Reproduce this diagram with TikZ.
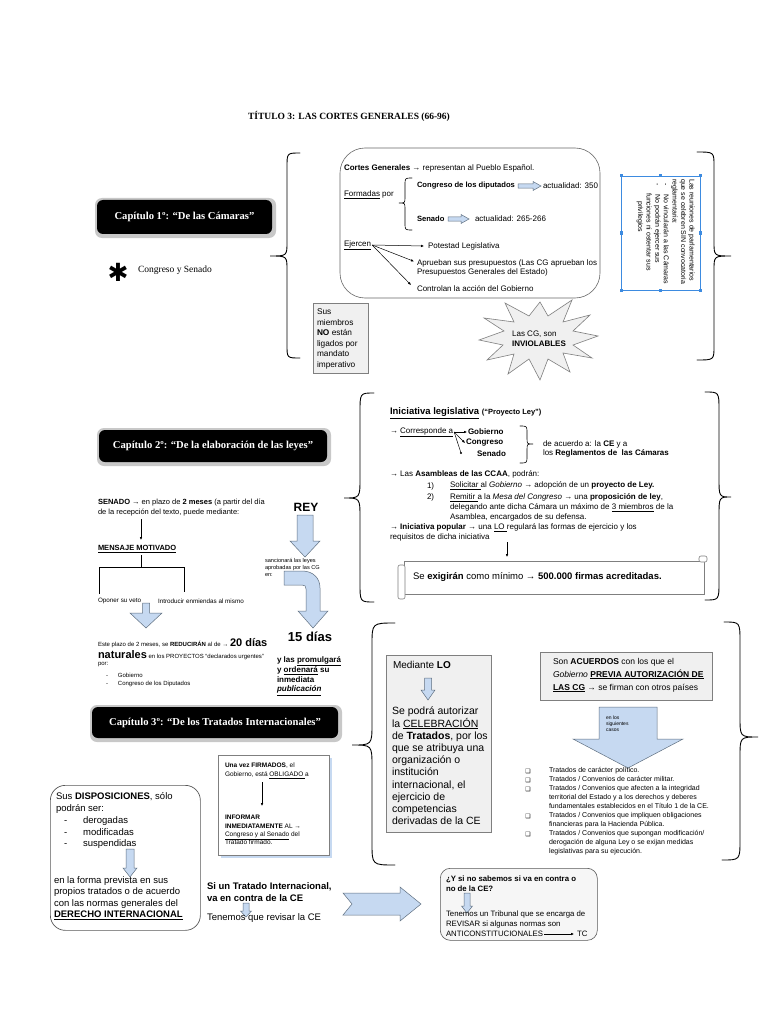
\documentclass[tikz,border=0pt]{standalone}
\usepackage{fontspec}
\setmainfont{Liberation Serif}
\setsansfont{Liberation Sans}
\newfontfamily\djv{DejaVu Sans}
\usetikzlibrary{arrows.meta,calc}
\definecolor{ablue}{HTML}{C6D9F1}
\definecolor{aline}{HTML}{5F6F80}
\definecolor{gbox}{HTML}{F0F0F0}
\definecolor{gline}{HTML}{7F7F7F}
\definecolor{selblue}{HTML}{3D8BE0}
\definecolor{shad}{HTML}{C8C8C8}
\newcommand\harw[6]{\draw[barrow] (#1,{#3-#4}) -- (#5,{#3-#4}) -- (#5,{#3-#6}) -- (#2,#3) -- (#5,{#3+#6}) -- (#5,{#3+#4}) -- (#1,{#3+#4}) -- cycle;}
\newcommand\varw[6]{\draw[barrow] ({#3-#4},#1) -- ({#3-#4},#5) -- ({#3-#6},#5) -- (#3,#2) -- ({#3+#6},#5) -- ({#3+#4},#5) -- ({#3+#4},#1) -- cycle;}
\newcommand\fsz[2]{\fontsize{#1}{#2}\selectfont}
\tikzset{
 t/.style={anchor=west, align=left, inner sep=0pt, outer sep=0pt, font=\sffamily\fsz{8}{9.8}},
 brace/.style={draw=black, line width=0.9pt, line cap=round},
 barrow/.style={draw=aline, fill=ablue, line width=0.5pt},
 tarr/.style={draw=black, line width=0.5pt, -{Latex[length=3pt,width=2.6pt]}},
 tline/.style={draw=black, line width=0.5pt},
 gb/.style={draw=gline, fill=gbox, line width=0.6pt},
 chap/.style={fill=black, text=white, rounded corners=6pt, inner sep=0pt, font=\bfseries\fsz{10.6}{12}},
 chapshadow/.style={fill=shad, rounded corners=7pt},
}
\begin{document}
\begin{tikzpicture}[x=1pt,y=-1pt]
\path[use as bounding box, fill=white] (0,0) rectangle (768,1024);

% ---------- title
\node[font=\bfseries\fsz{9.5}{11}] (title) at (349,116) {TÍTULO 3: LAS CORTES GENERALES (66-96)};

% ---------- chapter 1
\fill[chapshadow] (95,198) rectangle (276,238);
\node[chap, minimum width=175pt, minimum height=34pt] (cap1) at (184.5,217) {Capítulo 1º: “De las Cámaras”};
\node[font=\djv\fsz{25}{25}, inner sep=0pt] (ast) at (118,272) {✱};
\node[t, font=\fsz{9.5}{11}] (cys) at (138,270) {Congreso y Senado};

\draw[brace] (300,153) .. controls (287,153) .. (287,167) -- (287,242) .. controls (287,256) .. (270,256) .. controls (287,256) .. (287,270) -- (287,345) .. controls (287,358) .. (300,358);
\draw[brace] (697,152) .. controls (714,152) .. (714,166) -- (714,242) .. controls (714,256) .. (731,256) .. controls (714,256) .. (714,270) -- (714,346) .. controls (714,360) .. (697,360);

\node[draw=gline!80!black, line width=0.6pt, rounded corners=25pt, minimum width=260pt, minimum height=150pt, inner sep=0pt] (box1) at (470,223) {};
\node[t] (cg) at (344,168) {\textbf{Cortes Generales} → representan al Pueblo Español.};
\node[t] (form) at (344,195) {\underline{Formadas} por};
\draw[brace, line width=0.6pt] (412,178) .. controls (405,178) .. (405,185) -- (405,197) .. controls (405,203) .. (399,203) .. controls (405,203) .. (405,209) -- (405,223) .. controls (405,230) .. (412,230);
\node[t, font=\sffamily\bfseries\fsz{7.6}{9}] (cong) at (417,186) {Congreso de los diputados};
\harw{518}{541}{186}{2.2}{533}{4.5}
\node[t] (act1) at (543,186) {actualidad: 350};
\node[t, font=\sffamily\bfseries\fsz{7.6}{9}] (sen) at (417,219) {Senado};
\harw{448}{469}{219}{2.2}{461}{4.5}
\node[t] (act2) at (475,219) {actualidad: 265-266};
\node[t] (ej) at (344,245) {\underline{Ejercen}};
\node[t] (pot) at (428,246) {Potestad Legislativa};
\node[t] (apr) at (417,268) {Aprueban sus presupuestos (Las CG aprueban los\\Presupuestos Generales del Estado)};
\node[t] (ctrl) at (417,289) {Controlan la acción del Gobierno};
\coordinate (ejo) at ($(ej.east)+(1,0)$);
\draw[tarr] (ejo) -- ($(pot.west)+(-4,0)$);
\draw[tarr] (ejo) -- ($(apr.north west)+(-3,2)$);
\draw[tarr] (ejo) -- ($(ctrl.west)+(-6,-4)$);

% rotated note
\draw[selblue, line width=0.5pt] (621,176) rectangle (700,290);
\foreach \p in {(621,176),(660.5,176),(700,176),(621,233),(700,233),(621,290),(660.5,290),(700,290)}
  \fill[selblue] \p ++(-1.5,-1.5) rectangle ++(3,3);
\node[rotate=-90, anchor=north west, align=left, inner sep=0pt, font=\sffamily\fsz{7}{8.6}] (reun) at (695,179)
 {Las reuniones de parlamentarios\\que se celebren SIN convocatoria\\reglamentaria:\\\hspace*{4pt}-\hspace*{9pt}No vincularán a las Cámaras\\\hspace*{4pt}-\hspace*{9pt}No podrán ejercer sus\\\hspace*{14pt}funciones ni ostentar sus\\\hspace*{22pt}privilegios};

% sus miembros
\node[gb, anchor=north west, minimum width=55pt, minimum height=70pt, inner sep=0pt] (susb) at (313,303) {};
\node[t, font=\sffamily\fsz{8.3}{10.6}] (sust) at (317,339) {Sus\\miembros\\\textbf{NO} están\\ligados por\\mandato\\imperativo};

% starburst
\draw[gb, line width=0.6pt] (598,336) -- (573,331) -- (590,315) -- (563,322) -- (572,300) -- (548,316) -- (540,302) -- (529,316) -- (505,303) -- (514,322) -- (484,318) -- (504,331) -- (479,340) -- (503,345) -- (487,360) -- (514,354) -- (508,374) -- (529,359) -- (540,380) -- (548,359) -- (570,372) -- (563,353) -- (592,358) -- (573,345) -- cycle;
\node[t, anchor=center, font=\sffamily\fsz{8}{10}] (inv) at (539,339) {Las CG, son\\\textbf{INVIOLABLES}};

% ---------- chapter 2
\fill[chapshadow] (97,428) rectangle (331,466);
\node[chap, minimum width=228pt, minimum height=32pt] (cap2) at (213,446) {Capítulo 2º: “De la elaboración de las leyes”};

\draw[brace] (374,393) .. controls (360,393) .. (360,412) -- (360,478) .. controls (360,498) .. (344,498) .. controls (360,498) .. (360,518) -- (360,583) .. controls (360,602) .. (374,602);
\draw[brace] (705,392) .. controls (719,392) .. (719,410) -- (719,478) .. controls (719,497) .. (731,497) .. controls (719,497) .. (719,516) -- (719,582) .. controls (719,600) .. (705,600);

\node[t, font=\sffamily\fsz{7.5}{9}] (sen2a) at (98,503) {\textbf{SENADO} → en plazo de \textbf{2 meses} (a partir del día};
\node[t, font=\sffamily\fsz{7.5}{9}] (sen2b) at (98,513) {de la recepción del texto, puede mediante:};
\coordinate (a1s) at (141,519);
\coordinate (a1e) at (141,540);
\draw[tarr] (a1s) -- (a1e);
\node[t, font=\sffamily\bfseries\fsz{7.5}{9}] (mm) at (98,549) {\underline{MENSAJE MOTIVADO}};
\coordinate (tr0) at (141,555);
\coordinate (tr1) at (141,567);
\coordinate (trl) at (99,567);
\coordinate (trr) at (184,567);
\coordinate (trlb) at (99,594);
\coordinate (trrb) at (184,592);
\draw[tline] (tr0) -- (tr1);
\draw[tline] (trlb) -- (trl) -- (trr) -- (trrb);
\node[t, font=\sffamily\fsz{6.3}{8}] (veto) at (98,601) {Oponer su veto};
\node[t, font=\sffamily\fsz{6.3}{8}] (enm) at (158,601) {Introducir enmiendas al mismo};
\varw{603}{628}{146}{3.5}{613}{16}
\node[t, font=\sffamily\fsz{6}{8}] (pl1) at (98,643) {Este plazo de 2 meses, se \textbf{REDUCIRÁN} al de → {\fsz{11}{12}\textbf{20 días}}};
\node[t, font=\sffamily\fsz{6}{8}] (pl2) at (98,655) {{\fsz{11}{12}\textbf{naturales}} en los PROYECTOS “declarados urgentes”};
\node[t, font=\sffamily\fsz{6}{8}] (pl3) at (98,665) {por:};
\node[t, font=\sffamily\fsz{6}{8.5}] (pl4) at (106,680) {-\hspace*{10pt}Gobierno\\-\hspace*{10pt}Congreso de los Diputados};

\node[font=\sffamily\bfseries\fsz{12}{14}, inner sep=0pt] (rey) at (306,507) {REY};
\varw{515}{557}{305}{8}{541}{15}
\node[t, font=\sffamily\fsz{5.6}{7}] (sanc) at (265,567) {sancionará las leyes\\aprobadas por las CG\\en:};
\draw[barrow] (284,571) -- (302,571) .. controls (313,571) and (320,578) .. (320,588) -- (320,611) -- (328,611) -- (313,628) -- (298,611) -- (306,611) -- (306,589) .. controls (306,586) and (305,585) .. (302,585) -- (284,585) -- cycle;
\node[font=\sffamily\bfseries\fsz{13}{15}, inner sep=0pt] (quince) at (310,637) {15 días};
\node[t, font=\sffamily\bfseries\fsz{8}{9.4}] (prom) at (277,676) {y las \underline{promulgará}\\y \underline{ordenará} su\\inmediata\\\underline{\textit{publicación}}};

% right box section 2
\node[t, font=\sffamily\fsz{9.5}{11}] (ini) at (390,413) {\textbf{\underline{Iniciativa legislativa}} {\fsz{7.5}{9}\textbf{(“Proyecto Ley”)}}};
\node[t] (corr) at (390,432) {→ \underline{Corresponde a}};
\node[t] (gob) at (468,432) {\textbf{Gobierno}};
\node[t] (cgr) at (466,443) {\textbf{Congreso}};
\node[t] (sdo) at (477,454) {\textbf{Senado}};
\coordinate (fan) at ($(corr.east)+(1,0)$);
\draw[tarr] (fan) -- ($(gob.west)+(-1,0)$);
\draw[tarr] (fan) -- ($(cgr.west)+(-1,0)$);
\draw[tline] (fan) -- ($(sdo.west)+(-16,-1)$);
\fill ($(sdo.west)+(-16,-1)$) circle (1.1pt);
\draw[brace, line width=0.6pt] (520,426) .. controls (527,426) .. (527,433) -- (527,438) .. controls (527,444) .. (533,444) .. controls (527,444) .. (527,450) -- (527,456) .. controls (527,463) .. (520,463);
\node[t] (acu) at (543,449) {de acuerdo a: la \textbf{CE} y a\\los \textbf{Reglamentos de\ \ las Cámaras}};
\node[t] (asam) at (390,474) {→ Las \textbf{Asambleas de las CCAA}, podrán:};
\node[t] (n1) at (427,486) {1)};
\node[t] (n1t) at (450,486) {\underline{Solicitar }al \textit{Gobierno} → adopción de un \textbf{proyecto de Ley.}};
\node[t] (n2) at (427,497) {2)};
\node[t] (n2t) at (450,507.5) {\underline{Remitir }a la \textit{Mesa del Congreso} → una \textbf{proposición de ley},\\delegando ante dicha Cámara un máximo de \underline{3 miembros} de la\\Asamblea, encargados de su defensa.};
\node[t] (pop) at (390,532.5) {→ \textbf{Iniciativa popular} → una \underline{LO }regulará las formas de ejercicio y los\\requisitos de dicha iniciativa};
\coordinate (a2s) at (507,542);
\coordinate (a2e) at (507,557);
\draw[tarr] (a2s) -- (a2e);
% scroll
\draw[draw=gline, fill=white, line width=0.6pt] (404,561) rectangle (704,594);
\draw[draw=gline, fill=white, line width=0.6pt, rounded corners=2pt] (398,565) rectangle (405,599);
\draw[draw=gline, fill=white, line width=0.6pt, rounded corners=2pt] (699,556) rectangle (707,562);
\node[t, font=\sffamily\fsz{9.5}{11}] (firm) at (413,577) {Se \textbf{exigirán} como mínimo → \textbf{500.000 firmas acreditadas.}};

% ---------- chapter 3
\fill[chapshadow] (90,705) rectangle (342,742);
\node[chap, minimum width=246pt, minimum height=31pt] (cap3) at (215,722.5) {Capítulo 3º: “De los Tratados Internacionales”};

\draw[brace] (395,623) .. controls (372,623) .. (372,645) -- (372,723) .. controls (372,745) .. (352,745) .. controls (372,745) .. (372,767) -- (372,843) .. controls (372,865) .. (395,865);
\draw[brace] (724,622) .. controls (740,622) .. (740,642) -- (740,717) .. controls (740,737) .. (758,737) .. controls (740,737) .. (740,757) -- (740,840) .. controls (740,860) .. (722,860);

\node[gb, anchor=north west, minimum width=105pt, minimum height=177pt, inner sep=0pt] (lob) at (386,655) {};
\node[t, font=\sffamily\fsz{10}{12}] (med) at (393,665) {Mediante \textbf{LO}};
\varw{678}{700}{428}{3.5}{690}{7}
\node[t, font=\sffamily\fsz{10.5}{12.2}] (cel) at (392,766) {Se podrá autorizar\\la \underline{CELEBRACIÓN}\\de \textbf{Tratados}, por los\\que se atribuya una\\organización o\\institución\\internacional, el\\ejercicio de\\competencias\\derivadas de la CE};

\node[gb, anchor=north west, minimum width=172pt, minimum height=48pt, inner sep=0pt] (acb) at (540,652) {};
\node[t, font=\sffamily\fsz{8.5}{13}] (acue) at (553,675) {Son \textbf{ACUERDOS} con los que el\\\textit{Gobierno} \textbf{\underline{PREVIA AUTORIZACIÓN DE}}\\\textbf{\underline{LAS CG}} → se firman con otros países};
\varw{707}{768}{628}{29}{739}{55}
\node[t, font=\sffamily\fsz{5}{6}] (casos) at (606,724) {en los\\siguientes\\casos};
\foreach \yy/\nm in {771/b1,780/b2,789/b3,816/b4,834/b5}
  \node[font=\djv\fsz{6}{7}, inner sep=0pt] (\nm) at (528,\yy) {❑};
\node[t, font=\sffamily\fsz{7}{9}] (lista) at (549,811.5) {Tratados de carácter político.\\Tratados / Convenios de carácter militar.\\Tratados / Convenios que afecten a la integridad\\territorial del Estado y a los derechos y deberes\\fundamentales establecidos en el Título 1 de la CE.\\Tratados / Convenios que impliquen obligaciones\\financieras para la Hacienda Pública.\\Tratados / Convenios que supongan modificación/\\derogación de alguna Ley o se exijan medidas\\legislativas para su ejecución.};

% una vez firmados
\fill[ablue] (221,758) rectangle (332,858);
\node[draw=gline, fill=white, line width=0.6pt, anchor=north west, minimum width=111pt, minimum height=100pt, inner sep=0pt] (uvb) at (218,755) {};
\node[t, font=\sffamily\fsz{6.5}{9}] (uv1) at (225,771) {\textbf{Una vez FIRMADOS}, el\\Gobierno, está \underline{OBLIGADO }a};
\coordinate (a3s) at (262,782);
\coordinate (a3e) at (262,806);
\draw[tarr] (a3s) -- (a3e);
\node[t, font=\sffamily\fsz{6.5}{8.2}] (uv2) at (225,830) {\textbf{INFORMAR}\\\textbf{INMEDIATAMENTE} AL →\\\underline{Congreso y al Senado} del\\Tratado firmado.};

% sus disposiciones
\node[draw=gline!70!black, line width=0.7pt, rounded corners=15pt, anchor=north west, minimum width=150pt, minimum height=145pt, inner sep=0pt] (dispb) at (50,785) {};
\node[t, font=\sffamily\fsz{9.5}{11.5}] (d1) at (56,803) {Sus \textbf{DISPOSICIONES}, sólo\\podrán ser:};
\node[t, font=\sffamily\fsz{9.5}{11.5}] (d2) at (64,833) {-\hspace*{16pt}derogadas\\-\hspace*{16pt}modificadas\\-\hspace*{16pt}suspendidas};
\varw{849}{877}{130}{4}{868}{7}
\node[t, font=\sffamily\fsz{9.5}{11.5}] (d3) at (54,898) {en la forma prevista en sus\\propios tratados o de acuerdo\\con las normas generales del\\\textbf{\underline{DERECHO INTERNACIONAL}}};

% si un tratado
\node[t, font=\sffamily\bfseries\fsz{9.5}{12.5}] (si) at (207,892) {Si un Tratado Internacional,\\va en contra de la CE};
\varw{903}{917}{246}{3}{911}{5.5}
\node[t, font=\sffamily\fsz{9.5}{11}] (rev) at (207,918) {Tenemos que revisar la CE};

\draw[barrow] (343,893) -- (400,893) -- (400,887) -- (421,904) -- (400,921) -- (400,915) -- (343,915) -- (352,904) -- cycle;

% y si no sabemos
\node[draw=gline!70!black, fill=gbox!60, line width=0.6pt, rounded corners=10pt, anchor=north west, minimum width=157pt, minimum height=72pt, inner sep=0pt] (ysb) at (440,868) {};
\node[t, font=\sffamily\bfseries\fsz{7.8}{10}] (ys1) at (446,883.5) {¿Y si no sabemos si va en contra o\\no de la CE?};
\varw{893}{913}{467}{3}{906}{5.5}
\node[t, font=\sffamily\fsz{7.8}{10}] (ys2) at (446,919) {Tenemos un Tribunal que se encarga de\\REVISAR si algunas normas son};
\node[t, font=\sffamily\fsz{7.8}{10}] (anti) at (446,934) {ANTICONSTITUCIONALES};
\node[t, font=\sffamily\fsz{7.8}{10}] (tc) at (577,934) {TC};
\draw[tarr] ($(anti.east)+(1,0)$) -- ($(tc.west)+(-3,0)$);
\end{tikzpicture}
\end{document}
